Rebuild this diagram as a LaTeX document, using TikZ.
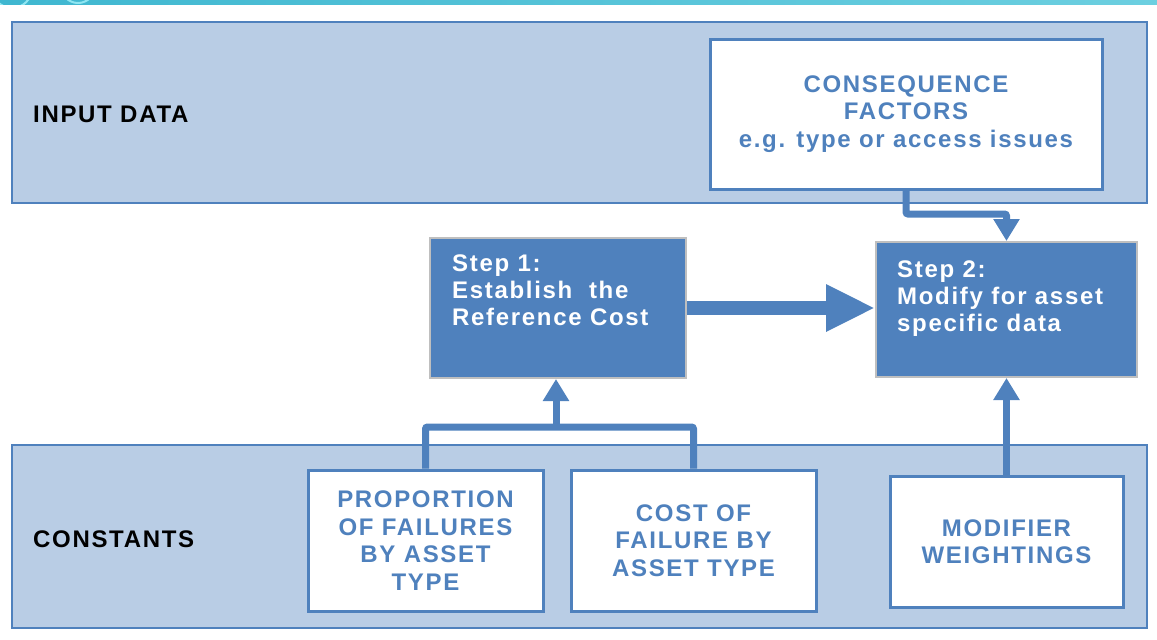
\documentclass[tikz,border=0pt]{standalone}
\usepackage{fontspec}
\setmainfont{Liberation Sans}
\newfontfamily\lblfont[LetterSpace=7]{Liberation Sans}
\usetikzlibrary{arrows.meta}
\definecolor{bandc}{HTML}{B9CDE5}
\definecolor{bblue}{HTML}{4F81BD}
\definecolor{sgray}{HTML}{BFBFBF}
\definecolor{tealA}{HTML}{3FB7D0}
\definecolor{tealB}{HTML}{6CCFE0}
\definecolor{ringc}{HTML}{8FE6F2}
\begin{document}
\begin{tikzpicture}[x=1pt,y=-1pt,
  bandbox/.style={draw=bblue, line width=2pt, fill=bandc, inner sep=0pt},
  wbox/.style={draw=bblue, line width=3pt, fill=white, text=bblue, align=center, inner sep=0pt,
    font=\lblfont\bfseries\fontsize{24}{27.5}\selectfont},
  sbox/.style={draw=sgray, line width=2pt, fill=bblue, inner sep=0pt},
  stxt/.style={text=white, align=left, inner sep=0pt, anchor=north west,
    font=\lblfont\bfseries\fontsize{24}{27}\selectfont},
  bandtxt/.style={text=black, inner sep=0pt, anchor=west,
    font=\lblfont\bfseries\fontsize{24}{27}\selectfont},
  conn/.style={draw=bblue, line width=7pt, rounded corners=2pt},
  tip/.style={-{Triangle[length=22pt,width=25pt]}},
  bigarrow/.style={draw=bblue, line width=14pt, -{Triangle[length=49pt,width=44pt]}}
]
\useasboundingbox (0,0) rectangle (1157,640);
% top decorative bar
\shade[left color=tealA, right color=tealB] (0,0) rectangle (1157,4);
\begin{scope}
  \clip (0,0) rectangle (1157,4);
  \draw[ringc, line width=2pt] (12,-12) circle (20);
  \draw[ringc, line width=2pt] (78,-14) circle (17);
\end{scope}

% bands
\node[bandbox, minimum width=1135pt, minimum height=181pt] (inband) at (579.5,112.5) {};
\node[bandbox, minimum width=1135pt, minimum height=183pt] (conband) at (579.5,536.5) {};
\node[bandtxt] (inlbl) at (33,114) {INPUT DATA};
\node[bandtxt] (conlbl) at (33,539) {CONSTANTS};

% white boxes
\node[wbox, minimum width=392pt, minimum height=150pt] (cons) at (906,114)
  {CONSEQUENCE\\FACTORS\\e.g. type or access issues};
\node[wbox, minimum width=235pt, minimum height=141pt] (prop) at (425.5,540.5)
  {PROPORTION\\OF FAILURES\\BY ASSET\\TYPE};
\node[wbox, minimum width=245pt, minimum height=141pt] (cost) at (693.5,540.5)
  {COST OF\\FAILURE BY\\ASSET TYPE};
\node[wbox, minimum width=233pt, minimum height=131pt] (mod) at (1006.5,541.5)
  {MODIFIER\\WEIGHTINGS};

% step boxes
\node[sbox, minimum width=256pt, minimum height=140pt] (step1) at (558,308) {};
\node[sbox, minimum width=261pt, minimum height=135pt] (step2) at (1006.5,309.5) {};
\node[stxt] (s1txt) at (452,255) {Step 1:\\Establish\ \ the\\Reference Cost};
\node[stxt] (s2txt) at (897,261) {Step 2:\\Modify for asset\\specific data};

% connectors
\coordinate (c1) at (1006.5,214);
\draw[conn, tip] (cons.south) |- (c1) -- (step2.north);

\draw[bigarrow] (step1.east) -- (step1.east -| step2.west);

\coordinate (j1) at (556,427);
\draw[conn] (prop.north) |- (j1) -| (cost.north);
\draw[conn, tip] (j1) -- (j1 |- step1.south);

\draw[conn, tip] (mod.north) -- (step2.south);
\end{tikzpicture}
\end{document}
